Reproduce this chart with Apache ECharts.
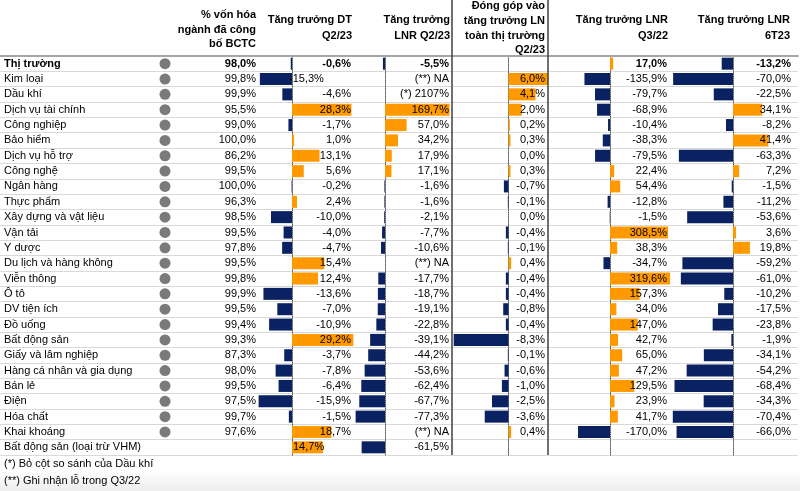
<!DOCTYPE html>
<html><head><meta charset="utf-8">
<script src="https://cdn.jsdelivr.net/npm/echarts@6/dist/echarts.min.js"></script>
<style>html,body{margin:0;padding:0;background:#fff}#c{width:800px;height:491px}</style>
</head><body><div id="c"></div>
<script>
// ---------- DATA ----------
const rowNames = ['Thị trường','Kim loại','Dầu khí','Dịch vụ tài chính','Công nghiệp','Bảo hiểm','Dịch vụ hỗ trợ','Công nghệ','Ngân hàng','Thực phẩm','Xây dựng và vật liệu','Vận tải','Y dược','Du lịch và hàng không','Viễn thông','Ô tô','DV tiện ích','Đồ uống','Bất động sản','Giấy và lâm nghiệp','Hàng cá nhân và gia dụng','Bán lẻ','Điện','Hóa chất','Khai khoáng','Bất động sản (loại trừ VHM)'];
const capPct = [98.0, 99.8, 99.9, 95.5, 99.0, 100.0, 86.2, 99.5, 100.0, 96.3, 98.5, 99.5, 97.8, 99.5, 99.8, 99.9, 99.5, 99.4, 99.3, 87.3, 98.0, 99.5, 97.5, 99.7, 97.6, null];
const dtQ2 = [-0.6, -15.3, -4.6, 28.3, -1.7, 1.0, 13.1, 5.6, -0.2, 2.4, -10.0, -4.0, -4.7, 15.4, 12.4, -13.6, -7.0, -10.9, 29.2, -3.7, -7.8, -6.4, -15.9, -1.5, 18.7, 14.7];
const dtLabelInBarRows = [1, 25];
const lnrQ2 = [-5.5, null, null, 169.7, 57.0, 34.2, 17.9, 17.1, -1.6, -1.6, -2.1, -7.7, -10.6, null, -17.7, -18.7, -19.1, -22.8, -39.1, -44.2, -53.6, -62.4, -67.7, -77.3, null, -61.5];
const lnrQ2Notes = [null, '(**) NA', '(*) 2107%', null, null, null, null, null, null, null, null, null, null, '(**) NA', null, null, null, null, null, null, null, null, null, null, '(**) NA', null];
const contribQ2 = [null, 6.0, 4.1, 2.0, 0.2, 0.3, 0.0, 0.3, -0.7, -0.1, 0.0, -0.4, -0.1, 0.4, -0.4, -0.4, -0.8, -0.4, -8.3, -0.1, -0.6, -1.0, -2.5, -3.6, 0.4, null];
const lnrQ3_22 = [17.0, -135.9, -79.7, -68.9, -10.4, -38.3, -79.5, 22.4, 54.4, -12.8, -1.5, 308.5, 38.3, -34.7, 319.6, 157.3, 34.0, 147.0, 42.7, 65.0, 47.2, 129.5, 23.9, 41.7, -170.0, null];
const lnr6T23 = [-13.2, -70.0, -22.5, 34.1, -8.2, 41.4, -63.3, 7.2, -1.5, -11.2, -53.6, 3.6, 19.8, -59.2, -61.0, -10.2, -17.5, -23.8, -1.9, -34.1, -54.2, -68.4, -34.3, -70.4, -66.0, null];
const footnotes = ['(*) Bỏ cột so sánh của Dầu khí', '(**) Ghi nhận lỗ trong Q3/22'];

// ---------- STYLE / LAYOUT ----------
const NAVY = '#0a2262', ORANGE = '#ff9900';
const FONT = "'Liberation Sans', Arial, sans-serif";
const FS = 11;
const TOP = 56, H = 399;
const fmt = v => v == null ? '' : v.toFixed(1).replace('.', ',') + '%';
const rich = { b: { fontWeight: 'bold', fontSize: FS, fontFamily: FONT, color: '#000' } };

const grids = [], xAxes = [], yAxes = [], series = [];
function catAxis(gi, extra) {
  return Object.assign({ type: 'category', gridIndex: gi, data: rowNames, inverse: true,
    axisTick: { show: false }, axisLabel: { show: false }, axisLine: { show: false, onZero: false },
    splitLine: { show: false } }, extra);
}
function labelAxis(gi, textFn, margin) {
  return catAxis(gi, { position: 'right', z: 10,
    axisLabel: { show: true, inside: true, margin: margin, interval: 0, fontSize: FS, fontFamily: FONT, color: '#000',
      formatter: (v, i) => { const t = textFn(i); return (i === 0 && t) ? '{b|' + t + '}' : t; }, rich: rich } });
}

// background grid: row names, row lines, header rule
grids.push({ left: 0, top: TOP, width: 798, height: H });
xAxes.push({ type: 'value', gridIndex: 0, position: 'top', min: 0, max: 1,
  axisLine: { show: true, onZero: false, lineStyle: { color: '#a6a6a6', width: 2 } },
  axisTick: { show: false }, axisLabel: { show: false }, splitLine: { show: false } });
yAxes.push(catAxis(0, {
  axisLabel: { show: true, inside: true, margin: 4, interval: 0, color: '#000', fontSize: FS, fontFamily: FONT,
    formatter: (v, i) => i === 0 ? '{b|' + v + '}' : v, rich: rich },
  splitLine: { show: true, interval: 0, lineStyle: { color: '#d9d9d9', width: 1 } } }));

// capitalization column with indicator dots
grids.push({ left: 165, top: TOP, width: 91, height: H });
xAxes.push({ type: 'value', gridIndex: 1, min: 0, max: 1, show: false });
yAxes.push(catAxis(1, {}));
const capDotAxis = yAxes.length - 1;
yAxes.push(labelAxis(1, i => fmt(capPct[i]), 0));
series.push({ type: 'scatter', xAxisIndex: 1, yAxisIndex: capDotAxis, symbol: 'circle', symbolSize: 11, clip: false,
  itemStyle: { color: '#595959' }, silent: true,
  data: capPct.map((v, i) => v == null ? null : [0, i]) });

function addColumn(c) {
  const gi = grids.length;
  grids.push({ left: c.left, top: TOP, width: c.right - c.left, height: H });
  xAxes.push({ type: 'value', gridIndex: gi, min: (c.left - c.zero) / c.scale, max: (c.right - c.zero) / c.scale, show: false });
  const yBar = yAxes.length;
  yAxes.push(catAxis(gi, { axisLine: { show: true, onZero: true, lineStyle: { color: '#5a5a5a', width: 1, type: 'dotted' } } }));
  yAxes.push(labelAxis(gi, c.text, 1));
  series.push({ type: 'bar', xAxisIndex: gi, yAxisIndex: yBar, barWidth: 12, clip: false, silent: true,
    data: c.values.map((v, i) => {
      if (v == null) return null;
      const item = { value: v, itemStyle: { color: v < 0 ? NAVY : ORANGE } };
      if (c.barLabel && c.barLabel(i)) item.label = Object.assign({ show: true, formatter: fmt(v), fontSize: FS, fontFamily: FONT, color: '#000' }, c.barLabel(i));
      return item;
    }) });
}

addColumn({ left: 240, right: 352, zero: 292, scale: 2.1, values: dtQ2,
  text: i => dtLabelInBarRows.includes(i) ? '' : fmt(dtQ2[i]),
  barLabel: i => !dtLabelInBarRows.includes(i) ? null : (dtQ2[i] < 0 ? { position: 'right', distance: -3 } : { position: 'insideLeft', distance: 1 }) });
addColumn({ left: 355, right: 450, zero: 385, scale: 0.38, values: lnrQ2,
  text: i => lnrQ2Notes[i] || fmt(lnrQ2[i]) });
addColumn({ left: 453, right: 546, zero: 508.5, scale: 6.6, values: contribQ2,
  text: i => fmt(contribQ2[i]) });
addColumn({ left: 550, right: 668, zero: 610, scale: 0.188, values: lnrQ3_22,
  text: i => fmt(lnrQ3_22[i]) });
addColumn({ left: 670, right: 792, zero: 733, scale: 0.855, values: lnr6T23,
  text: i => fmt(lnr6T23[i]) });

// headers
const headers = [
  { x: 256, lines: [['% vốn hóa', 15], ['ngành đã công', 30], ['bố BCTC', 44]] },
  { x: 352, lines: [['Tăng trưởng DT', 20], ['Q2/23', 36]] },
  { x: 450, lines: [['Tăng trưởng', 20], ['LNR Q2/23', 36]] },
  { x: 545, lines: [['Đóng góp vào', 6], ['tăng trưởng LN', 21], ['toàn thị trường', 36], ['Q2/23', 50]] },
  { x: 668, lines: [['Tăng trưởng LNR', 20], ['Q3/22', 36]] },
  { x: 790, lines: [['Tăng trưởng LNR', 20], ['6T23', 36]] }
];
const graphic = [];
graphic.push({ type: 'rect', left: 0, top: 470, z: -10, shape: { width: 800, height: 21 },
  style: { fill: new echarts.graphic.LinearGradient(0, 0, 0, 1, [{ offset: 0, color: '#ffffff' }, { offset: 1, color: '#ededed' }]) } });
headers.forEach(h => h.lines.forEach(l => graphic.push({ type: 'text', z: 10,
  style: { text: l[0], x: h.x, y: l[1], textAlign: 'right', textVerticalAlign: 'middle', fill: '#000',
    font: 'bold ' + FS + 'px ' + FONT } })));
[452, 548].forEach(x => graphic.push({ type: 'line', z: 10,
  shape: { x1: x, y1: 0, x2: x, y2: 455 }, style: { stroke: '#404040', lineWidth: 1.5 } }));
footnotes.forEach((t, k) => graphic.push({ type: 'text', z: 10,
  style: { text: t, x: 4, y: 464 + k * 17, textAlign: 'left', textVerticalAlign: 'middle', fill: '#000',
    font: FS + 'px ' + FONT } }));

const chart = echarts.init(document.getElementById('c'), null, { renderer: 'canvas' });
chart.setOption({ animation: false, grid: grids, xAxis: xAxes, yAxis: yAxes, series: series, graphic: graphic });
</script></body></html>
